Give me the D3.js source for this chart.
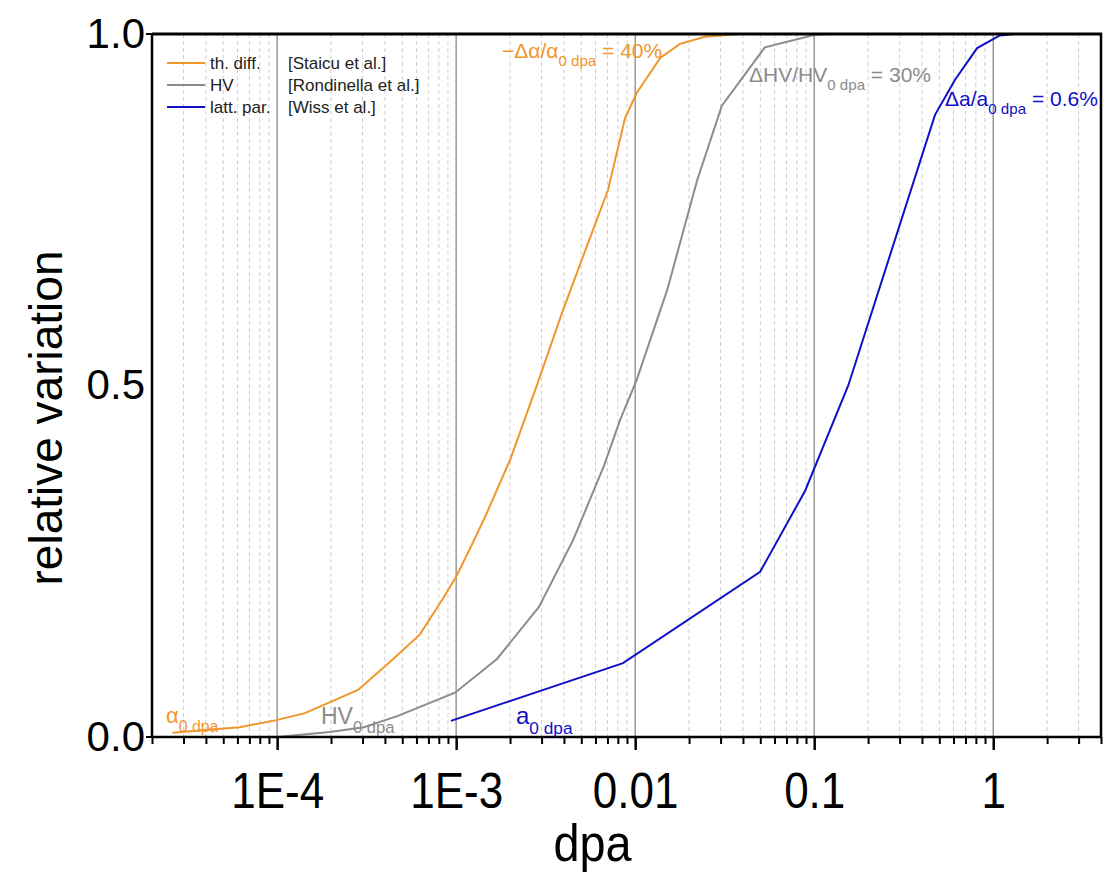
<!DOCTYPE html>
<html><head><meta charset="utf-8">
<script src="https://cdn.jsdelivr.net/npm/d3@7"></script>
<style>
body{margin:0;background:#fff;}
svg{display:block;font-family:"Liberation Sans",Arial,sans-serif;}
</style></head>
<body><svg id="c" width="1106" height="875"></svg>
<script>
// ---- data ----
const thDiffX = [2.6e-5,3.95e-5,6.2e-5,9.9e-5,1.43e-4,2.83e-4,4.28e-4,6.28e-4,8.34e-4,1.0e-3,1.2e-3,1.45e-3,2.0e-3,2.83e-3,3.95e-3,5.46e-3,7.05e-3,8.77e-3,1.02e-2,1.38e-2,1.78e-2,2.45e-2,3.86e-2,7.0e-2];
const thDiffY = [0.006,0.010,0.014,0.024,0.034,0.067,0.107,0.146,0.195,0.228,0.269,0.313,0.394,0.501,0.607,0.703,0.778,0.880,0.916,0.966,0.986,0.996,1.0,1.0];
const hvX = [1.0e-4,1.97e-4,3.05e-4,4.73e-4,9.86e-4,1.69e-3,2.9e-3,4.5e-3,6.7e-3,8.24e-3,1.02e-2,1.51e-2,2.22e-2,3.05e-2,5.3e-2,0.101,0.12];
const hvY = [0.0,0.007,0.014,0.030,0.063,0.111,0.185,0.280,0.386,0.451,0.508,0.636,0.792,0.898,0.981,0.999,1.0];
const latX = [9.35e-4,8.55e-3,0.0499,0.0889,0.155,0.473,0.612,0.813,1.09,1.32,2.0];
const latY = [0.023,0.105,0.235,0.35,0.50,0.885,0.935,0.98,0.998,1.0,1.0];
const xTickVals = [1e-4,1e-3,1e-2,1e-1,1];
const xTickLabels = ["1E-4","1E-3","0.01","0.1","1"];
const yTickVals = [0,0.5,1];
const yTickLabels = ["0.0","0.5","1.0"];
const seriesNames = ["th. diff.","HV","latt. par."];
const seriesRefs = ["[Staicu et al.]","[Rondinella et al.]","[Wiss et al.]"];
const colors = ["#F0962A","#8C8C8C","#1010C8"];

// ---- layout ----
const L=152,R=1101,T=34,B=737;
const svg=d3.select("#c");
const x=d3.scaleLog().domain([2e-5,4]).range([L,R]);
const y=d3.scaleLinear().domain([0,1]).range([B,T]);

// minor & major grid
const minors=[];
for(let e=-5;e<=0;e++){for(let m=2;m<=9;m++){const v=m*Math.pow(10,e); if(v>=2e-5&&v<=4) minors.push(v);}}
svg.append("g").selectAll("line").data(minors).join("line")
 .attr("x1",d=>x(d)).attr("x2",d=>x(d)).attr("y1",T).attr("y2",B)
 .attr("stroke","#cfcfcf").attr("stroke-width",1).attr("stroke-dasharray","4,3");
svg.append("g").selectAll("line").data(xTickVals).join("line")
 .attr("x1",d=>x(d)).attr("x2",d=>x(d)).attr("y1",T).attr("y2",B)
 .attr("stroke","#8a8a8a").attr("stroke-width",1.3);

// curves
const line=d3.line().x(d=>x(d[0])).y(d=>y(d[1]));
const series=[d3.zip(thDiffX,thDiffY),d3.zip(hvX,hvY),d3.zip(latX,latY)];
series.forEach((s,i)=>{
 svg.append("path").datum(s).attr("d",line).attr("fill","none")
  .attr("stroke",colors[i]).attr("stroke-width",2);
});

// x axis
const xAxisMinor=d3.axisBottom(x).tickValues(minors).tickSize(7).tickFormat("");
const gxm=svg.append("g").attr("transform",`translate(0,${B})`).call(xAxisMinor);
gxm.select(".domain").remove();
gxm.selectAll("line").attr("stroke","#000").attr("stroke-width",2);
const xAxis=d3.axisBottom(x).tickValues(xTickVals).tickSize(13).tickPadding(23)
 .tickFormat((d,i)=>xTickLabels[i]);
const gx=svg.append("g").attr("transform",`translate(0,${B})`).call(xAxis);
gx.select(".domain").remove();
gx.selectAll("line").attr("stroke","#000").attr("stroke-width",2.5);
gx.selectAll("text").attr("fill","#000").style("font-size","50px").attr("dy","0.71em")
 .attr("transform","scale(0.88,1)");

// y axis
const yAxis=d3.axisLeft(y).tickValues(yTickVals).tickSize(0).tickPadding(7)
 .tickFormat((d,i)=>yTickLabels[i]);
const gy=svg.append("g").attr("transform",`translate(${L},0)`).call(yAxis);
gy.select(".domain").remove();
gy.selectAll("text").attr("fill","#000").style("font-size","42px");

// frame
svg.append("line").attr("x1",L).attr("x2",R).attr("y1",B).attr("y2",B).attr("stroke","#000").attr("stroke-width",2.5);
svg.append("line").attr("x1",L).attr("x2",R+1).attr("y1",T).attr("y2",T).attr("stroke","#000").attr("stroke-width",3);
svg.append("line").attr("x1",L).attr("x2",L).attr("y1",T-1).attr("y2",B+1).attr("stroke","#000").attr("stroke-width",2.5);
svg.append("line").attr("x1",R).attr("x2",R).attr("y1",T-1).attr("y2",B+1).attr("stroke","#000").attr("stroke-width",2.5);
[0,1].forEach(v=>svg.append("line").attr("x1",L-6).attr("x2",L).attr("y1",y(v)).attr("y2",y(v)).attr("stroke","#000").attr("stroke-width",2));

// axis titles
svg.append("text").attr("x",(L+R)/2-34).attr("y",861).attr("text-anchor","middle")
 .attr("transform",`translate(${(L+R)/2-34},0) scale(0.9,1) translate(${-((L+R)/2-34)},0)`)
 .style("font-size","52px").text("dpa");
svg.append("text").attr("transform",`translate(62,418) rotate(-90)`).attr("text-anchor","middle")
 .style("font-size","46px").text("relative variation");

// legend
const lg=svg.append("g");
seriesNames.forEach((n,i)=>{
 const yy=63+i*22;
 lg.append("line").attr("x1",167).attr("x2",205).attr("y1",yy).attr("y2",yy).attr("stroke",colors[i]).attr("stroke-width",2);
 lg.append("text").attr("x",210).attr("y",yy+6).style("font-size","17px").attr("fill","#222").text(n);
 lg.append("text").attr("x",288).attr("y",yy+6).style("font-size","17px").attr("fill","#222").text(seriesRefs[i]);
});

// annotations
function ann(xp,yp,main,sub,tail,color,size){
 const t=svg.append("text").attr("x",xp).attr("y",yp).attr("fill",color).style("font-size",size+"px");
 t.append("tspan").text(main);
 t.append("tspan").attr("dy",size*0.4).style("font-size",(size*0.72)+"px").text(sub);
 if(tail) t.append("tspan").attr("dy",-size*0.4).text(tail);
}
ann(166,723,"α","0 dpa",null,colors[0],22);
ann(321,724,"HV","0 dpa",null,colors[1],23);
ann(516,724,"a","0 dpa",null,colors[2],24);
ann(502,58,"−Δα/α","0 dpa"," = 40%",colors[0],21);
ann(749,82,"ΔHV/HV","0 dpa"," = 30%",colors[1],21);
ann(945,106,"Δa/a","0 dpa"," = 0.6%",colors[2],21);
</script></body></html>
